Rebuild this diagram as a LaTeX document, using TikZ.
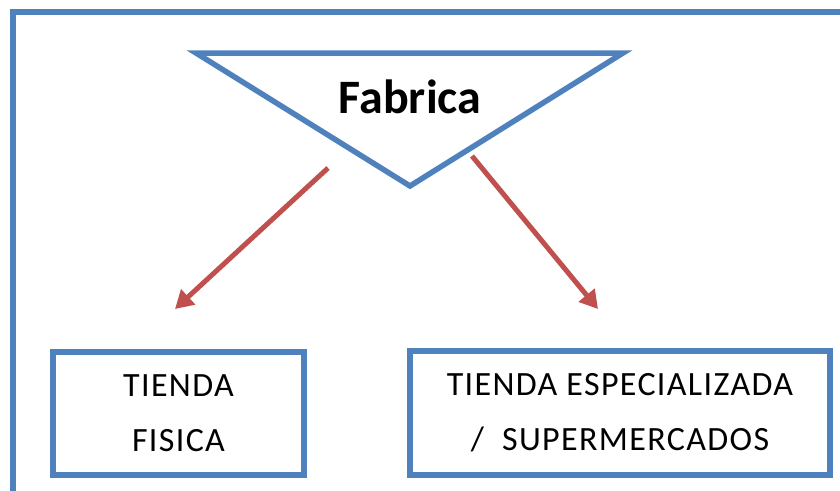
\documentclass[tikz,border=0pt]{standalone}
\usepackage{fontspec}
\setmainfont{Carlito}
\usetikzlibrary{arrows.meta}
\definecolor{frameblue}{HTML}{4F81BD}
\definecolor{arrowred}{HTML}{C0504D}
\begin{document}
\begin{tikzpicture}[x=1pt,y=-1pt,
  blueline/.style={draw=frameblue,line width=6pt},
  boxnode/.style={blueline,fill=white,inner sep=0pt,align=center,font=\fontsize{34}{55}\selectfont\addfontfeatures{LetterSpace=4}},
  redarrow/.style={draw=arrowred,line width=5pt,-{Triangle[length=18pt,width=20pt]}}]
\useasboundingbox (0,0) rectangle (840,490);
% outer frame
\coordinate (fbl) at (13,500);
\coordinate (ftl) at (13,11.5);
\coordinate (ftr) at (850,11.5);
\draw[blueline,line join=miter] (fbl) -- (ftl) -- (ftr);
% triangle
\coordinate (tl) at (196,53);
\coordinate (tr) at (623,53);
\coordinate (tb) at (410,186);
\draw[blueline,line width=5.5pt,line join=miter,fill=white] (tl) -- (tr) -- (tb) -- cycle;
\node (fab) at (410,97) {\fontsize{48}{50}\selectfont\bfseries Fabrica};
% boxes
\node[boxnode,minimum width=251pt,minimum height=123pt] (b1) at (178.5,413) {TIENDA\\FISICA};
\node[boxnode,minimum width=420pt,minimum height=124pt] (b2) at (620,413) {TIENDA ESPECIALIZADA\\/~~SUPERMERCADOS};
% arrows
\coordinate (a1s) at (328,168);
\coordinate (a1e) at (175,309);
\coordinate (a2s) at (472,156);
\coordinate (a2e) at (598,309);
\draw[redarrow] (a1s) -- (a1e);
\draw[redarrow] (a2s) -- (a2e);
\end{tikzpicture}
\end{document}
